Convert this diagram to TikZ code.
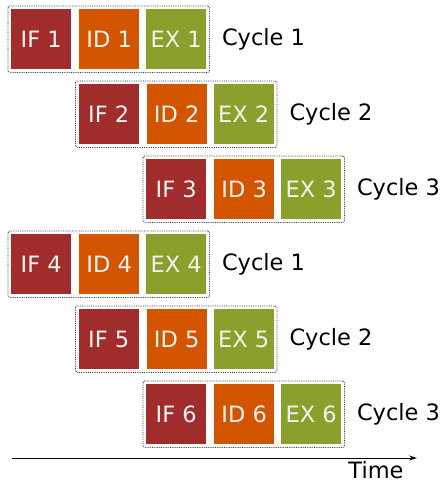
\documentclass[tikz,border=0pt]{standalone}
\usepackage{fontspec}
\setmainfont{DejaVu Sans}
\usetikzlibrary{fit,arrows.meta}
\definecolor{ifc}{HTML}{A02C2C}
\definecolor{idc}{HTML}{D45500}
\definecolor{exc}{HTML}{89A02C}
\definecolor{txtc}{HTML}{F4F4F0}
\tikzset{
  stage/.style={minimum width=60pt,minimum height=60pt,inner sep=0pt,anchor=north west,
    text=txtc,font=\fontsize{22.5}{27}\selectfont},
  grp/.style={draw=black!80,densely dotted,line width=0.8pt,rounded corners=1.5pt,inner sep=3pt},
  cyc/.style={anchor=west,font=\fontsize{22.5}{27}\selectfont,text=black,inner sep=0pt},
}
\begin{document}
\begin{tikzpicture}[x=1pt,y=-1pt]
\useasboundingbox (0,0) rectangle (444,483);
\foreach \i in {1,...,6}{
  \pgfmathsetmacro{\r}{int(mod(\i-1,3))}
  \pgfmathsetmacro{\xo}{11+67.5*\r}
  \pgfmathsetmacro{\yo}{9+75*(\i-1)}
  \node[stage,fill=ifc] (if\i) at (\xo,\yo) {IF \i};
  \node[stage,fill=idc] (id\i) at (\xo+68,\yo) {ID \i};
  \node[stage,fill=exc] (ex\i) at (\xo+135,\yo) {EX \i};
  \node[grp,fit=(if\i)(ex\i)] (g\i) {};
  \pgfmathsetmacro{\c}{int(\r+1)}
  \node[cyc] (c\i) at ([xshift=12pt]g\i.east) {Cycle \c};
}
\coordinate (ts) at (12,458);
\coordinate (te) at (417,458);
\draw[line width=0.9pt,-{Stealth[length=8pt,width=5pt]}] (ts) -- (te);
\node[font=\fontsize{22.5}{27}\selectfont,inner sep=0pt,anchor=base] (time) at (376,478) {Time};
\end{tikzpicture}
\end{document}
